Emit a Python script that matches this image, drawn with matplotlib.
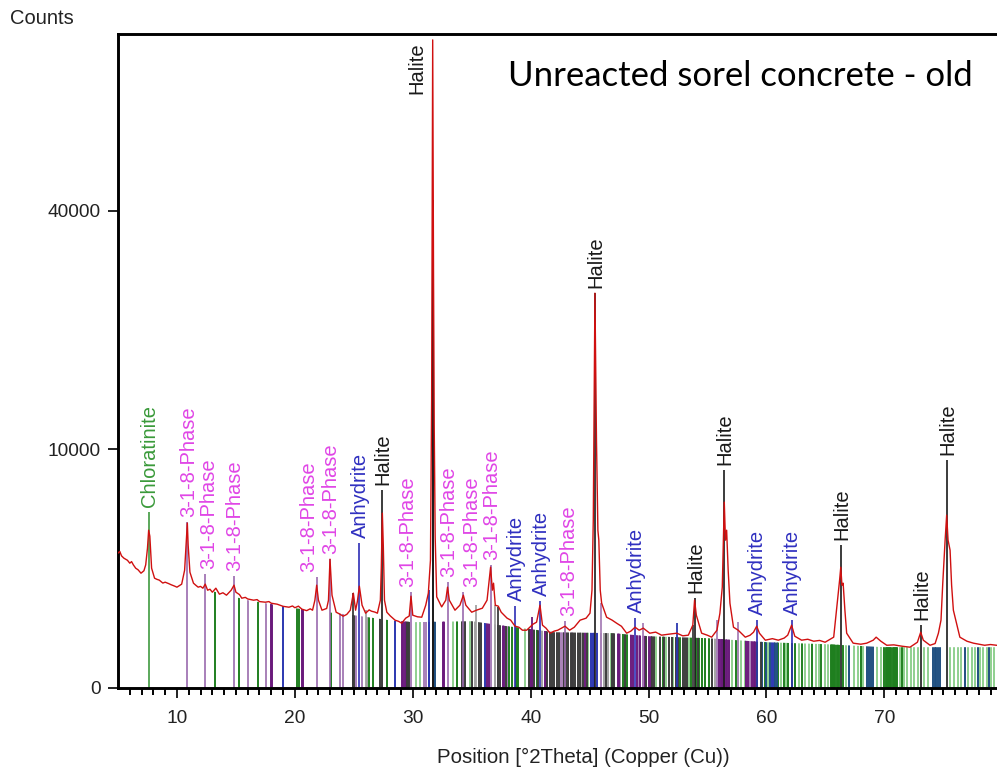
import numpy as np
import matplotlib
matplotlib.use("Agg")
import matplotlib.pyplot as plt
from matplotlib.patches import Polygon

plt.rcParams['font.family'] = ['Liberation Sans', 'DejaVu Sans']

# measured scan, 2theta in degrees and counts
two_theta = [5.0, 5.15, 5.3, 5.5, 5.8, 6.0, 6.15, 6.3, 6.5, 6.7, 6.95, 7.2, 7.35, 7.5,
             7.6, 7.7, 7.85, 8.1, 8.3, 8.5, 8.8, 9.0, 9.3, 9.5, 9.8, 10.0, 10.4, 10.65,
             10.8, 10.88, 10.95, 11.1, 11.4, 11.6, 11.8, 12.0, 12.2, 12.4, 12.6, 12.8,
             13.0, 13.3, 13.6, 13.9, 14.2, 14.6, 14.84, 15.0, 15.3, 15.5, 15.8, 16.0,
             16.5, 16.8, 17.0, 17.5, 17.8, 18.0, 18.5, 19.0, 19.5, 19.8, 20.0, 20.3,
             20.6, 21.0, 21.3, 21.5, 21.7, 21.85, 22.0, 22.3, 22.7, 22.85, 22.98,
             23.15, 23.5, 23.8, 24.1, 24.4, 24.7, 24.96, 25.15, 25.3, 25.47, 25.7,
             26.0, 26.3, 26.5, 26.8, 27.0, 27.25, 27.33, 27.42, 27.5, 27.6, 27.8,
             28.1, 28.5, 28.8, 29.06, 29.4, 29.7, 29.85, 30.0, 30.4, 30.76, 31.1,
             31.32, 31.5, 31.6, 31.69, 31.76, 31.82, 31.9, 32.03, 32.45, 32.8, 32.95,
             33.1, 33.58, 34.0, 34.29, 34.5, 35.0, 35.4, 35.9, 36.3, 36.6, 36.75,
             36.85, 37.0, 37.25, 37.5, 38.0, 38.3, 38.67, 39.0, 39.3, 39.66, 40.2,
             40.5, 40.79, 41.0, 41.3, 41.64, 42.0, 42.3, 42.91, 43.3, 43.7, 44.19,
             44.7, 45.03, 45.2, 45.31, 45.45, 45.58, 45.7, 45.78, 45.9, 46.02, 46.44,
             46.9, 47.29, 47.7, 48.14, 48.5, 48.85, 49.2, 49.55, 50.1, 50.6, 51.1,
             51.7, 52.4, 52.9, 53.37, 53.75, 53.9, 54.05, 54.5, 55.0, 55.35, 55.8,
             56.05, 56.25, 56.42, 56.52, 56.62, 56.75, 56.9, 57.2, 57.6, 58.2, 58.6,
             58.9, 59.17, 59.4, 59.9, 60.5, 61.0, 61.5, 61.8, 62.13, 62.4, 62.98,
             63.5, 64.0, 64.5, 64.97, 65.7, 66.0, 66.2, 66.3, 66.4, 66.5, 66.65,
             66.8, 67.35, 68.0, 68.5, 69.05, 69.3, 69.7, 70.2, 70.8, 71.5, 72.17,
             72.8, 73.08, 73.3, 73.87, 74.3, 74.58, 74.8, 74.95, 75.15, 75.28, 75.4,
             75.57, 75.7, 75.85, 76.4, 77.0, 77.55, 78.0, 78.5, 79.0, 79.55, 80.0]
counts = [3180, 3260, 3050, 2944, 2850, 2721, 2790, 2650, 2506, 2440, 2300, 2400, 2650, 3417,
          4357, 4031, 2506, 2104, 2060, 2030, 1920, 1953, 1900, 1860, 1810, 1772, 1880, 2423,
          3821, 4760, 3566, 2341, 1916, 1840, 1772, 1800, 1736, 1880, 1667, 1700,
          1599, 1736, 1533, 1580, 1500, 1667, 1843, 1599, 1520, 1404, 1430, 1380,
          1342, 1360, 1300, 1281, 1300, 1250, 1222, 1160, 1135, 1170, 1120, 1165,
          1080, 1040, 1090, 1052, 1342, 1843, 1342, 1052, 1100, 1342, 2899,
          1500, 998, 950, 895, 940, 1052, 1566, 1052, 1300, 1807, 1193,
          972, 1060, 1025, 1000, 972, 1342, 2500, 5350, 3566, 1342, 998,
          900, 798, 770, 728, 846, 900, 1468, 920, 880, 870, 1193,
          1566, 2854, 14535, 73830, 30000, 12000, 4000, 1446, 1144, 1342, 1772,
          1342, 1052, 1193, 1500, 1193, 998, 1052, 1107, 1342, 2548, 1667,
          1916, 1193, 1165, 998, 846, 800, 662, 640, 578, 578, 706,
          751, 1193, 684, 620, 519, 560, 578, 662, 578, 640, 798,
          846, 972, 1667, 4929, 27377, 10780, 4357, 3821, 1667, 1251, 870,
          800, 728, 660, 519, 560, 640, 578, 620, 519, 540, 482,
          500, 519, 470, 482, 684, 1342, 920, 519, 480, 446, 578,
          972, 1772, 6046, 3821, 4357, 2423, 1251, 640, 578, 446, 480,
          538, 662, 519, 394, 420, 394, 430, 482, 684, 463, 394,
          410, 377, 390, 361, 446, 1251, 2027, 2548, 1843, 1916, 1052,
          519, 346, 330, 346, 394, 446, 377, 314, 320, 300, 286,
          361, 538, 394, 314, 340, 519, 798, 1916, 3821, 5228, 3821,
          3320, 1843, 1052, 446, 377, 346, 330, 314, 325, 314, 300]

# background level the reference sticks stand up to
bg_theta = [5, 7, 8, 10, 12, 14, 16, 18, 20, 22, 25, 28, 30, 35, 38, 42, 47, 50,
            55, 60, 65, 70, 80]
bg_counts = [3176, 2261, 2104, 1843, 1736, 1533, 1342, 1222, 1107, 1025, 920, 798,
             751, 774, 662, 538, 519, 463, 428, 361, 330, 286, 286]

# reference pattern sticks, grouped by drawing colour
green_dark = [13.25, 15.24, 16.87, 20.2, 20.35, 23.05, 26.3, 26.65, 27.8, 33.75, 38.2,
              38.4, 38.75, 38.85, 38.95, 40.5, 47.85, 48.2, 51.2, 52.7, 53.6, 54.0,
              54.3, 54.5, 54.8, 55.1, 57.4, 59.2, 59.85, 61.0, 61.5, 61.8, 62.2,
              62.4, 63.0, 63.9, 64.65, 65.45, 65.55, 65.65, 65.75, 65.85, 65.95,
              66.05, 66.15, 66.45, 68.0, 70.0, 70.1, 70.2, 70.3, 70.4, 70.5, 70.6,
              70.7, 70.8, 70.9, 71.0, 71.1, 71.5]
green_light = [30.3, 30.6, 33.45, 34.86, 39.5, 44.9, 46.8, 47.0, 50.6, 51.5, 52.1, 53.4,
               56.8, 57.1, 57.55, 57.85, 58.15, 60.1, 61.25, 61.65, 62.75, 63.3, 63.6,
               64.2, 64.45, 64.95, 65.2, 66.75, 67.4, 67.8, 68.2, 69.4, 69.7, 71.35,
               71.65, 71.95, 72.25, 72.55, 72.85, 73.4, 73.7, 75.6, 75.9, 76.2, 76.5,
               77.1, 77.4, 77.7, 78.1, 78.4, 78.7, 79.0, 79.3]
purple_dark = [17.95, 18.05, 20.6, 20.7, 29.05, 29.15, 29.3, 29.45, 32.55, 32.65, 36.3,
               36.5, 37.65, 37.75, 39.95, 40.0, 41.2, 41.3, 44.6, 47.4, 47.5, 48.5,
               48.7, 49.0, 49.3, 49.5, 49.7, 50.0, 50.2, 56.0, 56.1, 56.2, 56.3, 56.4,
               56.55, 56.65, 56.8, 58.3, 58.45, 58.75, 58.9, 59.05]
purple_light = [16.03, 17.53, 23.8, 24.1, 25.2, 25.66, 30.95, 31.1, 38.1, 42.6, 42.7,
                43.5, 45.95, 49.2, 55.8, 58.6]
blue = [19.0, 28.5, 31.4, 36.13, 45.1, 45.25, 45.35, 45.6, 52.4, 60.5, 60.65]
navy = [31.75, 31.8, 31.9, 59.6, 59.95, 60.3, 60.75, 60.85, 67.0, 68.55, 68.7, 68.85,
        69.0, 74.1, 74.25, 74.4, 74.55, 74.7, 76.8, 77.9, 78.9]
grey_dark = [24.9, 25.0, 27.2, 29.55, 29.6, 29.7, 34.15, 34.3, 34.45, 35.0, 35.6, 35.8,
             37.25, 37.4, 37.9, 39.85, 40.15, 40.3, 40.65, 41.4, 41.6, 41.8, 42.0,
             42.2, 42.4, 42.8, 43.0, 43.2, 43.4, 43.6, 43.8, 44.0, 44.2, 44.4,
             44.8, 46.4, 46.9, 47.1, 48.0, 49.8, 50.3, 50.5, 51.0, 51.3, 51.7, 52.0,
             52.3, 52.5, 52.9, 53.1, 53.3, 54.2, 55.4, 59.5]
grey_light = [26.1, 35.3, 36.98, 41.0, 44.3, 46.2, 46.6, 47.6, 55.6]

# reference lines rising above the background
tall_pos = [24.96, 26.05, 31.4, 35.36, 36.98, 37.25, 40.08, 46.0, 49.55, 52.4, 53.75,
            55.77, 57.6, 31.69]
tall_top = [1566, 1052, 1667, 1193, 1193, 1144, 870, 1251, 728, 728, 684, 798, 758, 41830]
tall_color = ['#3c3c3c', '#a2a2a2', '#2b37b0', '#a2a2a2', '#a2a2a2', '#3c3c3c', '#6a1a7c',
              '#a880b8', '#a880b8', '#2b37b0', '#3c3c3c', '#a880b8', '#a880b8', '#1a1a1a']

# identified peaks
label_pos = [7.6, 10.88, 12.4, 14.84, 21.85, 22.98, 25.47, 27.42, 29.85, 31.69, 32.95,
             34.29, 36.6, 38.67, 40.79, 42.91, 45.45, 48.85, 53.9, 56.42, 59.17, 62.13,
             66.3, 73.08, 75.28]
label_phase = ['Chloratinite', '3-1-8-Phase', '3-1-8-Phase', '3-1-8-Phase', '3-1-8-Phase',
               '3-1-8-Phase', 'Anhydrite', 'Halite', '3-1-8-Phase', 'Halite',
               '3-1-8-Phase', '3-1-8-Phase', '3-1-8-Phase', 'Anhydrite', 'Anhydrite',
               '3-1-8-Phase', 'Halite', 'Anhydrite', 'Halite', 'Halite', 'Anhydrite',
               'Anhydrite', 'Halite', 'Halite', 'Halite']
label_top = [5411, 4812, 2261, 2181, 2142, 2899, 3667, 6855, 1599, 41830, 1955,
             1599, 2634, 1164, 1311, 774, 27377, 846, 1404, 8316, 798,
             798, 3566, 684, 9098]
MAIN_PEAK = 31.69

text_color = {'Chloratinite': '#3a9a3a', '3-1-8-Phase': '#e046e6',
              'Anhydrite': '#3030c0', 'Halite': '#1a1a1a'}
line_color = {'Chloratinite': '#3f9a3f', '3-1-8-Phase': '#9a6aae',
              'Anhydrite': '#2d2db5', 'Halite': '#1a1a1a'}
# sideways nudge (pixels) for labels that would collide with a neighbour
nudge = {21.85: -8, 34.29: 8, 42.91: 4, 12.4: 3, 29.85: -3}

fig = plt.figure(figsize=(9.97, 7.71), dpi=100)
ax = fig.add_axes([118 / 997, 83.5 / 771, 879 / 997, 654 / 771])

ax.set_yscale('function', functions=(lambda y: np.sqrt(np.clip(y, 0, None)),
                                     lambda y: np.asarray(y) ** 2))
ax.set_xlim(5, 79.55)
ax.set_ylim(0, 75300)

# sticks are clipped to the area under the background
clip = Polygon(np.column_stack([np.r_[bg_theta, bg_theta[::-1]],
                                np.r_[bg_counts, np.zeros(len(bg_theta))]]),
               closed=True, facecolor='none', edgecolor='none')
ax.add_patch(clip)
groups = [(green_light, '#8fd08f'), (grey_light, '#a2a2a2'), (purple_light, '#a880b8'),
          (green_dark, '#1f7f1f'), (purple_dark, '#6a1a7c'), (blue, '#2b37b0'),
          (navy, '#1f4f80'), (grey_dark, '#3c3c3c')]
for xs, col in groups:
    lc = ax.vlines(xs, 0, 80000, colors=col, lw=1.4, zorder=1)
    lc.set_clip_path(clip)

ax.vlines(tall_pos, 0, tall_top, colors=tall_color, lw=1.3, zorder=2)

for pos, phase, top in zip(label_pos, label_phase, label_top):
    ax.vlines(pos, 0, top, colors=line_color[phase], lw=1.2, zorder=2.5)
    if pos == MAIN_PEAK:
        ax.annotate(phase, (pos, 75300), xytext=(-16, -9), textcoords='offset pixels',
                    rotation=90, ha='center', va='top', fontsize=14.5,
                    color=text_color[phase])
    else:
        ax.annotate(phase, (pos, top), xytext=(nudge.get(pos, 1), 5),
                    textcoords='offset pixels', rotation=90, ha='center', va='bottom',
                    fontsize=14.5, color=text_color[phase])

ax.plot(two_theta, counts, color='#d01010', lw=1.0, zorder=3)

ax.set_yticks([0, 10000, 40000])
ax.set_yticklabels(['0', '10000', '40000'])
ax.set_xticks([10, 20, 30, 40, 50, 60, 70])
ax.set_xticks(np.arange(6, 80), minor=True)
ax.tick_params(axis='both', which='major', direction='out', length=7.2, width=1.4,
               labelsize=13.8, colors='#222222')
ax.tick_params(axis='x', which='major', pad=9)
ax.tick_params(axis='y', which='major', pad=5)
ax.tick_params(axis='x', which='minor', direction='out', length=5, width=1.4)
ax.tick_params(axis='y', which='minor', left=False)

for side in ['left', 'bottom', 'top']:
    ax.spines[side].set_linewidth(2.1)
ax.spines['right'].set_visible(False)

fig.text(10 / 997, 1 - 19 / 771, 'Counts', fontsize=14.5, ha='left', va='center',
         color='#222222')
fig.text(583.5 / 997, 1 - 757 / 771, 'Position [°2Theta] (Copper (Cu))', fontsize=14.7,
         ha='center', va='center', color='#222222')
fig.text(508 / 997, 1 - 76 / 771, 'Unreacted sorel concrete - old', fontsize=25,
         family='Lato', ha='left', va='center', color='black')

fig.savefig('out.png', dpi=100)
